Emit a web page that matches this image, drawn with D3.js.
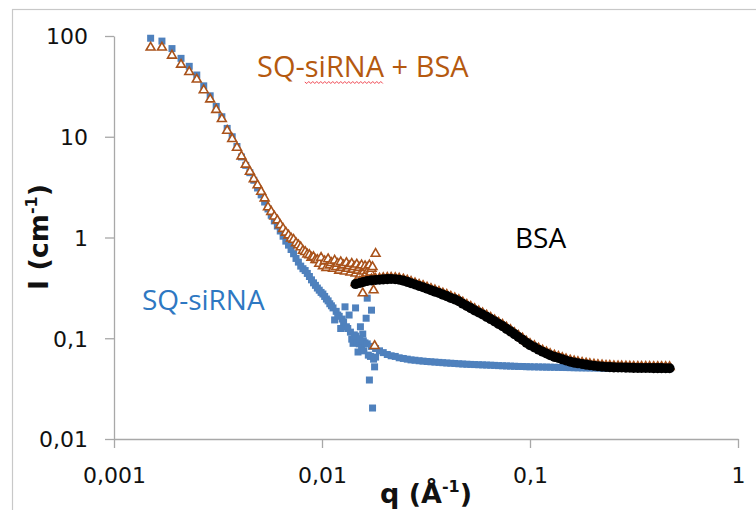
<!DOCTYPE html>
<html>
<head>
<meta charset="utf-8">
<script src="https://cdn.jsdelivr.net/npm/d3@7"></script>
<style>
  body { margin: 0; background: #fff; }
  svg { display: block; }
</style>
</head>
<body>
<div id="chart"></div>
<script>
// Low-q detector configuration: q (Å-1)
const qLow = [
  0.0015, 0.0017, 0.0019, 0.0021, 0.0023, 0.0025, 0.0027, 0.0029, 0.0031, 0.0033,
  0.0035, 0.0037, 0.0039, 0.0041, 0.0043, 0.0045, 0.0047, 0.0049, 0.0051, 0.0053,
  0.0055, 0.0057, 0.0059, 0.0061, 0.0063, 0.0065, 0.0067, 0.0069, 0.0071, 0.0073,
  0.0075, 0.0077, 0.0079, 0.0081, 0.0083, 0.0085, 0.0087, 0.0089, 0.0091, 0.0093,
  0.0095, 0.0097, 0.0099, 0.0101, 0.0103, 0.0105, 0.0107, 0.0109, 0.0111, 0.0113,
  0.0115, 0.0117, 0.0119, 0.0121, 0.0123, 0.0125, 0.0127, 0.0129, 0.0131, 0.0133,
  0.0135, 0.0137, 0.0139, 0.0141, 0.0143, 0.0145, 0.0147, 0.0149, 0.0151, 0.0153,
  0.0155, 0.0157, 0.0159, 0.0161, 0.0163, 0.0165, 0.0167, 0.0169, 0.0171, 0.0173,
  0.0175, 0.0177, 0.0179, 0.0181
];
// SQ-siRNA, I (cm-1), low-q config
const siRNALow = [
  95, 89, 75, 60, 50, 41, 32, 25.5, 20, 15.8,
  12.1, 10, 8.0, 6.3, 5.2, 4.4, 3.7, 3.1, 2.65, 2.25,
  1.92, 1.66, 1.46, 1.30, 1.16, 1.03, 0.92, 0.84, 0.76, 0.69,
  0.62, 0.57, 0.52, 0.49, 0.47, 0.44, 0.41, 0.38, 0.355, 0.335,
  0.315, 0.30, 0.285, 0.275, 0.26, 0.245, 0.235, 0.22, 0.21, 0.20,
  0.152, 0.185, 0.17, 0.165, 0.125, 0.155, 0.145, 0.205, 0.13, 0.125,
  0.17, 0.115, 0.098, 0.089, 0.108, 0.20, 0.092, 0.073, 0.088, 0.13,
  0.08, 0.11, 0.075, 0.09, 0.158, 0.25, 0.068, 0.0385, 0.066, 0.19,
  0.0203, 0.062, 0.052, 0.065
];
// SQ-siRNA + BSA, I (cm-1), low-q config
const mixLow = [
  77, 77, 64, 52, 44, 37, 29, 23.5, 18.5, 15,
  11.5, 9.5, 7.8, 6.4, 5.3, 4.5, 3.8, 3.3, 2.85, 2.45,
  2.0, 1.8, 1.62, 1.48, 1.33, 1.22, 1.12, 1.05, 0.98, 0.95,
  0.88, 0.84, 0.80, 0.74, 0.72, 0.68, 0.67, 0.63, 0.64, 0.60,
  0.60, 0.55, 0.63, 0.52, 0.58, 0.50, 0.61, 0.53, 0.56, 0.49,
  0.59, 0.51, 0.55, 0.47, 0.57, 0.50, 0.53, 0.46, 0.56, 0.49,
  0.52, 0.45, 0.55, 0.48, 0.51, 0.44, 0.54, 0.47, 0.50, 0.43,
  0.53, 0.28, 0.46, 0.52, 0.44, 0.50, 0.47, 0.53, 0.45, 0.49,
  0.51, 0.30, 0.084, 0.69
];

// High-q detector configuration: q (Å-1)
const qHigh = [
  0.0145, 0.0152, 0.0158, 0.0165, 0.0173, 0.0181, 0.0189, 0.0197, 0.0206, 0.0215,
  0.0225, 0.0235, 0.0246, 0.0257, 0.0268, 0.0280, 0.0293, 0.0306, 0.0320, 0.0334,
  0.0349, 0.0365, 0.0381, 0.0398, 0.0416, 0.0435, 0.0455, 0.0475, 0.0497, 0.0519,
  0.0542, 0.0567, 0.0592, 0.0619, 0.0647, 0.0676, 0.0706, 0.0738, 0.0771, 0.0806,
  0.0842, 0.0880, 0.0920, 0.0961, 0.100, 0.105, 0.110, 0.115, 0.120, 0.125,
  0.131, 0.137, 0.143, 0.149, 0.156, 0.163, 0.170, 0.178, 0.186, 0.194,
  0.203, 0.212, 0.222, 0.232, 0.242, 0.253, 0.265, 0.276, 0.289, 0.302,
  0.315, 0.330, 0.344, 0.360, 0.376, 0.393, 0.411, 0.429, 0.449, 0.469
];
const siRNAHigh = [
  0.105, 0.099, 0.094, 0.088, 0.083, 0.079, 0.075, 0.072, 0.069, 0.067,
  0.066, 0.064, 0.063, 0.062, 0.061, 0.0605, 0.0598, 0.0593, 0.0588, 0.0584,
  0.058, 0.0576, 0.0572, 0.0568, 0.0565, 0.0562, 0.0558, 0.0555, 0.0552, 0.055,
  0.0548, 0.0546, 0.0544, 0.0542, 0.054, 0.0538, 0.0535, 0.0533, 0.0531, 0.0529,
  0.0527, 0.0525, 0.0524, 0.0522, 0.0521, 0.052, 0.0519, 0.0518, 0.0517, 0.0516,
  0.0515, 0.0514, 0.0513, 0.0512, 0.0511, 0.051, 0.0509, 0.0508, 0.0508, 0.0507,
  0.0507, 0.0506, 0.0506, 0.0505, 0.0505, 0.0504, 0.0504, 0.0503, 0.0503, 0.0502,
  0.0502, 0.0502, 0.0501, 0.0501, 0.0501, 0.05, 0.05, 0.05, 0.0499, 0.0499
];
const mixHigh = [
  0.355, 0.365, 0.373, 0.381, 0.386, 0.39, 0.392, 0.396, 0.398, 0.399,
  0.397, 0.392, 0.384, 0.374, 0.363, 0.352, 0.34, 0.331, 0.319, 0.309,
  0.299, 0.289, 0.279, 0.27, 0.259, 0.25, 0.24, 0.227, 0.215, 0.205,
  0.195, 0.185, 0.177, 0.168, 0.16, 0.151, 0.143, 0.136, 0.128, 0.121,
  0.113, 0.106, 0.0997, 0.093, 0.088, 0.0836, 0.0791, 0.0756, 0.0726, 0.0698,
  0.0674, 0.0655, 0.0637, 0.0619, 0.0603, 0.059, 0.0581, 0.0572, 0.0563, 0.0556,
  0.055, 0.0544, 0.0539, 0.0534, 0.0533, 0.0529, 0.0528, 0.0527, 0.0526, 0.0524,
  0.0523, 0.0522, 0.0522, 0.0521, 0.0521, 0.052, 0.052, 0.052, 0.0519, 0.0519
];
const bsaHigh = [
  0.345, 0.354, 0.362, 0.370, 0.375, 0.379, 0.381, 0.384, 0.386, 0.387,
  0.385, 0.381, 0.373, 0.363, 0.352, 0.342, 0.330, 0.321, 0.310, 0.300,
  0.290, 0.281, 0.271, 0.262, 0.251, 0.243, 0.233, 0.220, 0.209, 0.199,
  0.189, 0.180, 0.172, 0.163, 0.155, 0.147, 0.139, 0.132, 0.124, 0.117,
  0.110, 0.103, 0.0968, 0.0903, 0.0854, 0.0812, 0.0768, 0.0734, 0.0705, 0.0678,
  0.0654, 0.0636, 0.0618, 0.0601, 0.0585, 0.0573, 0.0564, 0.0555, 0.0547, 0.0540,
  0.0534, 0.0528, 0.0523, 0.0518, 0.0517, 0.0514, 0.0513, 0.0512, 0.0511, 0.0509,
  0.0508, 0.0507, 0.0507, 0.0506, 0.0506, 0.0505, 0.0505, 0.0505, 0.0504, 0.0504
];

const xTicks = [0.001, 0.01, 0.1, 1];
const xTickLabels = ['0,001', '0,01', '0,1', '1'];
const yTicks = [0.01, 0.1, 1, 10, 100];
const yTickLabels = ['0,01', '0,1', '1', '10', '100'];

const width = 756;
const height = 510;
const margin = { top: 36, right: 18, bottom: 71, left: 114 };
const innerW = width - margin.left - margin.right;
const innerH = height - margin.top - margin.bottom;

const xScale = d3.scaleLog().domain([0.001, 1]).range([0, innerW]);
const yScale = d3.scaleLog().domain([0.01, 100]).range([innerH, 0]);

const root = d3.select('#chart').append('svg')
  .attr('width', width)
  .attr('height', height);

// outer chart frame
root.append('rect')
  .attr('x', 12.5).attr('y', 9.5)
  .attr('width', width).attr('height', height)
  .attr('fill', 'none')
  .attr('stroke', '#c8c8c8')
  .attr('stroke-width', 1.2);

const svg = root.append('g')
  .attr('transform', 'translate(' + margin.left + ',' + margin.top + ')');

const axisColor = '#a8a8a8';
const tickFont = '"DejaVu Sans", sans-serif';

// x axis
const gx = svg.append('g')
  .attr('transform', 'translate(0,' + innerH + ')')
  .call(d3.axisBottom(xScale)
    .tickValues(xTicks)
    .tickFormat((d, i) => xTickLabels[i])
    .tickSize(9)
    .tickSizeOuter(0));
gx.selectAll('text').attr('y', 44).attr('dy', 0);

// y axis
const gy = svg.append('g')
  .call(d3.axisLeft(yScale)
    .tickValues(yTicks)
    .tickFormat((d, i) => yTickLabels[i])
    .tickSize(9)
    .tickSizeOuter(0)
    .tickPadding(17));
gy.selectAll('text').attr('dy', '0.36em');

[gx, gy].forEach(g => {
  g.select('.domain').attr('stroke', axisColor).attr('stroke-width', 1.3);
  g.selectAll('.tick line').attr('stroke', axisColor).attr('stroke-width', 1.3);
  g.selectAll('text')
    .attr('font-family', tickFont)
    .attr('font-size', 22)
    .attr('fill', '#111');
});

const toPoints = (qs, vals) => qs.map((q, i) => ({ q: q, I: vals[i] }))
  .filter(d => d.I != null);

function drawSeries(points, symbol, size, fill, stroke, strokeWidth) {
  svg.append('g')
    .selectAll('path')
    .data(points)
    .enter().append('path')
    .attr('transform', d => 'translate(' + xScale(d.q) + ',' + yScale(d.I) + ')')
    .attr('d', d3.symbol().type(symbol).size(size))
    .attr('fill', fill)
    .attr('stroke', stroke)
    .attr('stroke-width', strokeWidth);
}

// SQ-siRNA: filled blue squares
drawSeries(toPoints(qLow, siRNALow), d3.symbolSquare, 49, '#4f81bd', 'none', 0);
drawSeries(toPoints(qHigh, siRNAHigh), d3.symbolSquare, 49, '#4f81bd', 'none', 0);
// SQ-siRNA + BSA: open brown triangles
drawSeries(toPoints(qLow, mixLow), d3.symbolTriangle, 34, '#fff', '#a9521a', 1.6);
drawSeries(toPoints(qHigh, mixHigh), d3.symbolTriangle, 34, '#fff', '#a9521a', 1.6);
// BSA: black dots
drawSeries(toPoints(qHigh, bsaHigh), d3.symbolCircle, 80, '#000', 'none', 0);

// axis titles
const titleFont = '"DejaVu Sans", sans-serif';
const yTitle = root.append('text')
  .attr('transform', 'translate(48,237) rotate(-90)')
  .attr('text-anchor', 'middle')
  .attr('font-family', titleFont)
  .attr('font-weight', 'bold')
  .attr('font-size', 27)
  .attr('fill', '#111');
yTitle.append('tspan').text('I (cm');
yTitle.append('tspan').attr('font-size', 16).attr('dy', -11).text('-1');
yTitle.append('tspan').attr('dy', 11).text(')');

const xTitle = root.append('text')
  .attr('x', 426).attr('y', 503)
  .attr('text-anchor', 'middle')
  .attr('font-family', titleFont)
  .attr('font-weight', 'bold')
  .attr('font-size', 27)
  .attr('fill', '#111');
xTitle.append('tspan').text('q (Å');
xTitle.append('tspan').attr('font-size', 16).attr('dy', -11).text('-1');
xTitle.append('tspan').attr('dy', 11).text(')');

// series annotations
const noteFont = '"Open Sans", sans-serif';
const mixNote = root.append('text')
  .attr('x', 257).attr('y', 77)
  .attr('font-family', noteFont)
  .attr('font-size', 29)
  .attr('fill', '#b5590f')
  .text('SQ-siRNA + BSA');

root.append('text')
  .attr('x', 142).attr('y', 310)
  .attr('font-family', noteFont)
  .attr('font-size', 28)
  .attr('fill', '#2e78c2')
  .text('SQ-siRNA');

root.append('text')
  .attr('x', 515).attr('y', 248)
  .attr('font-family', noteFont)
  .attr('font-size', 28)
  .attr('fill', '#000')
  .text('BSA');

// red spell-check squiggle under "siRNA"
const node = mixNote.node();
const sx0 = node.getStartPositionOfChar(3).x;
const sx1 = node.getEndPositionOfChar(7).x;
const sy = 82;
let squiggle = 'M' + sx0 + ',' + sy;
for (let px = sx0 + 2, k = 1; px <= sx1; px += 2, k++) {
  squiggle += 'L' + px + ',' + (sy + (k % 2 ? 1.5 : -0.5));
}
root.append('path')
  .attr('d', squiggle)
  .attr('fill', 'none')
  .attr('stroke', '#f0454f')
  .attr('stroke-width', 1);
</script>
</body>
</html>
